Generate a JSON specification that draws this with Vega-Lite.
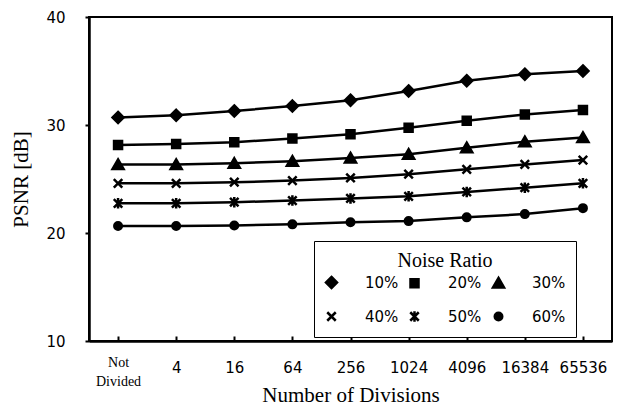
{
  "$schema": "https://vega.github.io/schema/vega-lite/v6.json",
  "width": 523,
  "height": 324,
  "autosize": "none",
  "padding": {"left": 89, "top": 17, "right": 6, "bottom": 72},
  "background": "white",
  "config": {
    "view": {"stroke": "black", "strokeWidth": 2},
    "axis": {
      "grid": false,
      "domainColor": "black",
      "domainWidth": 2.5,
      "tickColor": "black",
      "tickWidth": 2,
      "labelColor": "black",
      "labelFont": "DejaVu Sans",
      "labelFontSize": 15,
      "titleColor": "black",
      "titleFont": "Liberation Serif",
      "titleFontSize": 21,
      "titleFontWeight": "normal"
    }
  },
  "data": {
    "values": [
      {"div": "Not Divided", "ratio": "10%", "psnr": 30.7},
      {"div": "4", "ratio": "10%", "psnr": 30.9},
      {"div": "16", "ratio": "10%", "psnr": 31.3},
      {"div": "64", "ratio": "10%", "psnr": 31.75},
      {"div": "256", "ratio": "10%", "psnr": 32.3},
      {"div": "1024", "ratio": "10%", "psnr": 33.15},
      {"div": "4096", "ratio": "10%", "psnr": 34.1},
      {"div": "16384", "ratio": "10%", "psnr": 34.7},
      {"div": "65536", "ratio": "10%", "psnr": 35.0},
      {"div": "Not Divided", "ratio": "20%", "psnr": 28.15},
      {"div": "4", "ratio": "20%", "psnr": 28.25},
      {"div": "16", "ratio": "20%", "psnr": 28.4},
      {"div": "64", "ratio": "20%", "psnr": 28.75},
      {"div": "256", "ratio": "20%", "psnr": 29.15},
      {"div": "1024", "ratio": "20%", "psnr": 29.75},
      {"div": "4096", "ratio": "20%", "psnr": 30.4},
      {"div": "16384", "ratio": "20%", "psnr": 30.98},
      {"div": "65536", "ratio": "20%", "psnr": 31.4},
      {"div": "Not Divided", "ratio": "30%", "psnr": 26.35},
      {"div": "4", "ratio": "30%", "psnr": 26.35},
      {"div": "16", "ratio": "30%", "psnr": 26.45},
      {"div": "64", "ratio": "30%", "psnr": 26.65},
      {"div": "256", "ratio": "30%", "psnr": 26.95},
      {"div": "1024", "ratio": "30%", "psnr": 27.3},
      {"div": "4096", "ratio": "30%", "psnr": 27.9},
      {"div": "16384", "ratio": "30%", "psnr": 28.45},
      {"div": "65536", "ratio": "30%", "psnr": 28.85},
      {"div": "Not Divided", "ratio": "40%", "psnr": 24.6},
      {"div": "4", "ratio": "40%", "psnr": 24.6},
      {"div": "16", "ratio": "40%", "psnr": 24.7},
      {"div": "64", "ratio": "40%", "psnr": 24.85},
      {"div": "256", "ratio": "40%", "psnr": 25.1},
      {"div": "1024", "ratio": "40%", "psnr": 25.45},
      {"div": "4096", "ratio": "40%", "psnr": 25.9},
      {"div": "16384", "ratio": "40%", "psnr": 26.35},
      {"div": "65536", "ratio": "40%", "psnr": 26.75},
      {"div": "Not Divided", "ratio": "50%", "psnr": 22.75},
      {"div": "4", "ratio": "50%", "psnr": 22.75},
      {"div": "16", "ratio": "50%", "psnr": 22.85},
      {"div": "64", "ratio": "50%", "psnr": 23.0},
      {"div": "256", "ratio": "50%", "psnr": 23.2},
      {"div": "1024", "ratio": "50%", "psnr": 23.4},
      {"div": "4096", "ratio": "50%", "psnr": 23.8},
      {"div": "16384", "ratio": "50%", "psnr": 24.2},
      {"div": "65536", "ratio": "50%", "psnr": 24.6},
      {"div": "Not Divided", "ratio": "60%", "psnr": 20.65},
      {"div": "4", "ratio": "60%", "psnr": 20.65},
      {"div": "16", "ratio": "60%", "psnr": 20.7},
      {"div": "64", "ratio": "60%", "psnr": 20.8},
      {"div": "256", "ratio": "60%", "psnr": 21.0},
      {"div": "1024", "ratio": "60%", "psnr": 21.1},
      {"div": "4096", "ratio": "60%", "psnr": 21.45},
      {"div": "16384", "ratio": "60%", "psnr": 21.75},
      {"div": "65536", "ratio": "60%", "psnr": 22.3}
    ]
  },
  "encoding": {
    "x": {
      "field": "div",
      "type": "nominal",
      "sort": ["Not Divided", "4", "16", "64", "256", "1024", "4096", "16384", "65536"],
      "scale": {"type": "point", "padding": 0.5},
      "axis": {
        "title": "Number of Divisions",
        "labelAngle": 0,
        "tickSize": -5,
        "labelPadding": {"condition": {"test": "datum.value == 'Not Divided'", "value": 26}, "value": 31},
        "labelBaseline": "middle",
        "labelLineHeight": 19,
        "labelExpr": "datum.value == 'Not Divided' ? ['Not', 'Divided'] : datum.value",
        "labelFont": {"condition": {"test": "datum.value == 'Not Divided'", "value": "Liberation Serif"}, "value": "DejaVu Sans"},
        "labelFontSize": {"condition": {"test": "datum.value == 'Not Divided'", "value": 14}, "value": 15},
        "titlePadding": -4
      }
    },
    "y": {
      "field": "psnr",
      "type": "quantitative",
      "scale": {"domain": [10, 40], "nice": false, "zero": false},
      "axis": {
        "title": "PSNR [dB]",
        "values": [10, 20, 30, 40],
        "tickSize": 4,
        "labelPadding": 20,
        "titlePadding": 14
      }
    }
  },
  "layer": [
    {
      "mark": {"type": "line", "color": "black", "strokeWidth": 2.5},
      "encoding": {"detail": {"field": "ratio", "type": "nominal"}}
    },
    {
      "mark": {"type": "point", "filled": false, "fill": "black", "stroke": "black", "strokeWidth": 2.5, "size": 100, "opacity": 1, "fillOpacity": 1, "strokeOpacity": 1},
      "encoding": {
        "shape": {
          "field": "ratio",
          "type": "nominal",
          "title": "Noise Ratio",
          "scale": {
            "domain": ["10%", "20%", "30%", "40%", "50%", "60%"],
            "range": [
              "M0,-1.1L1.1,0L0,1.1L-1.1,0Z",
              "M-0.8,-0.8H0.8V0.8H-0.8Z",
              "M0,-1L1.1,0.9L-1.1,0.9Z",
              "M-0.85,-0.85L0.85,0.85M-0.85,0.85L0.85,-0.85",
              "M-0.85,-0.85L0.85,0.85M-0.85,0.85L0.85,-0.85M0,-1.05L0,1.05",
              "M-0.75,0A0.75,0.75,0,1,0,0.75,0A0.75,0.75,0,1,0,-0.75,0Z"
            ]
          },
          "legend": {
            "orient": "none",
            "legendX": 225,
            "legendY": 224,
            "direction": "horizontal",
            "columns": 3,
            "padding": 10,
            "strokeColor": "black",
            "fillColor": "white",
            "titleFont": "Liberation Serif",
            "titleFontSize": 20,
            "titleFontWeight": "normal",
            "titleColor": "black",
            "titleAnchor": "middle",
            "titlePadding": 4,
            "labelFont": "DejaVu Sans",
            "labelFontSize": 15,
            "labelColor": "black",
            "labelOffset": 26,
            "labelExpr": "datum.label + '  '",
            "symbolSize": 100,
            "symbolStrokeWidth": 2.5,
            "symbolOpacity": 1,
            "rowPadding": 13,
            "columnPadding": 6,
            "encode": {
              "symbols": {
                "fill": {"value": "black"},
                "stroke": {"value": "black"},
                "strokeWidth": {"value": 2.5},
                "opacity": {"value": 1}
              }
            }
          }
        }
      }
    }
  ]
}
